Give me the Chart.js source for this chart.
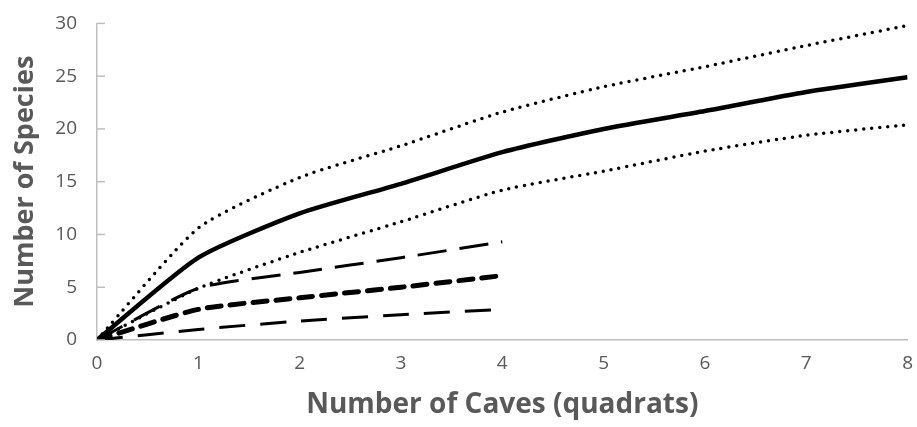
<!DOCTYPE html>
<html>
<head>
<meta charset="utf-8">
<script src="https://cdn.jsdelivr.net/npm/chart.js@4"></script>
<style>
  html, body { margin: 0; padding: 0; background: #fff; }
  #wrap { width: 917px; height: 427px; }
</style>
</head>
<body>
<div id="wrap"><canvas id="chart" width="917" height="427"></canvas></div>
<script>
// valores
const cavesLong = [0, 1, 2, 3, 4, 5, 6, 7, 8];
const cavesShort = [0, 1, 2, 3, 4];

const speciesMean = [0, 7.8, 12.0, 14.8, 17.8, 20.0, 21.7, 23.5, 24.9];
const speciesUpper = [0, 10.6, 15.4, 18.4, 21.6, 24.0, 25.9, 27.9, 29.8];
const speciesLower = [0, 4.9, 8.3, 11.2, 14.2, 16.0, 17.9, 19.4, 20.4];

const groupUpper = [0, 4.9, 6.4, 7.8, 9.3];
const groupMean = [0, 2.9, 4.0, 5.0, 6.1];
const groupLower = [0, 1.0, 1.8, 2.4, 2.9];

const xTicks = [0, 1, 2, 3, 4, 5, 6, 7, 8];
const yTicks = [0, 5, 10, 15, 20, 25, 30];

function pts(xs, ys) {
    return xs.map((x, i) => ({ x: x, y: ys[i] }));
}

const grisTexto = '#595959';
const grisEje = '#bfbfbf';

// marcas cortas del eje Y hacia dentro del area (como en Excel)
const marcasDentro = {
    id: 'marcasDentro',
    afterDatasetsDraw(chart) {
        const y = chart.scales.y;
        const c = chart.ctx;
        const x0 = chart.chartArea.left;
        c.save();
        c.strokeStyle = grisEje;
        c.lineWidth = 1.5;
        yTicks.forEach(v => {
            const py = y.getPixelForValue(v);
            c.beginPath();
            c.moveTo(x0, py);
            c.lineTo(x0 + 8, py);
            c.stroke();
        });
        c.restore();
    }
};

const ctx = document.getElementById('chart').getContext('2d');

new Chart(ctx, {
    type: 'line',
    data: {
        datasets: [
            {
                data: pts(cavesLong, speciesUpper),
                borderColor: '#000', borderWidth: 3.5,
                borderDash: [0, 8], borderCapStyle: 'round'
            },
            {
                data: pts(cavesLong, speciesLower),
                borderColor: '#000', borderWidth: 3.5,
                borderDash: [0, 8], borderCapStyle: 'round'
            },
            {
                data: pts(cavesLong, speciesMean),
                borderColor: '#000', borderWidth: 4.5
            },
            {
                data: pts(cavesShort, groupUpper),
                borderColor: '#000', borderWidth: 3,
                borderDash: [29, 13]
            },
            {
                data: pts(cavesShort, groupMean),
                borderColor: '#000', borderWidth: 5,
                borderDash: [14, 9], borderCapStyle: 'round'
            },
            {
                data: pts(cavesShort, groupLower),
                borderColor: '#000', borderWidth: 3,
                borderDash: [26, 15]
            }
        ]
    },
    options: {
        responsive: false,
        animation: false,
        tension: 0.2,
        elements: { point: { radius: 0 } },
        layout: { padding: { top: 17, right: 9, left: 0, bottom: 0 } },
        plugins: {
            legend: { display: false },
            tooltip: { enabled: false }
        },
        scales: {
            x: {
                type: 'linear',
                min: 0, max: 8,
                afterBuildTicks: axis => { axis.ticks = xTicks.map(v => ({ value: v })); },
                afterFit: axis => { axis.height = 87; },
                ticks: { color: grisTexto, font: { family: 'Open Sans', size: 19 }, padding: 4 },
                grid: { display: false },
                border: { display: true, color: grisEje, width: 1.5 },
                title: {
                    display: true, text: 'Number of Caves (quadrats)',
                    color: grisTexto, font: { family: 'Open Sans', size: 28, weight: 'bold' },
                    padding: { top: 4, bottom: 5 }
                }
            },
            y: {
                min: 0, max: 30,
                afterBuildTicks: axis => { axis.ticks = yTicks.map(v => ({ value: v })); },
                afterFit: axis => { axis.width = 97; },
                ticks: { color: grisTexto, font: { family: 'Open Sans', size: 19 }, padding: 12 },
                grid: { display: false },
                border: { display: true, color: grisEje, width: 1.5 },
                title: {
                    display: true, text: 'Number of Species',
                    color: grisTexto, font: { family: 'Open Sans', size: 27, weight: 'bold' },
                    padding: { top: 9, bottom: 4 }
                }
            }
        }
    },
    plugins: [marcasDentro]
});
</script>
</body>
</html>
